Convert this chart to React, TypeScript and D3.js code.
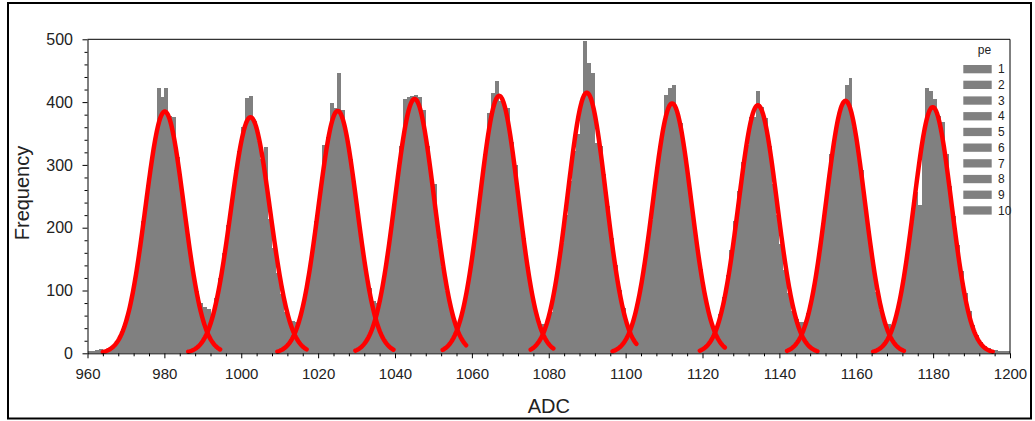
import * as d3 from "d3";
import {useEffect, useRef} from "react";

// histogram counts, one ADC per bin, each pe block starts at peStart[i]
const peStart = [960, 991, 1014, 1035, 1056, 1079, 1101, 1123, 1146, 1168];
const pe1 = [4, 4, 6, 7, 6, 8, 11, 17, 27, 43, 60, 90, 124, 158, 210, 250, 300, 338, 422, 408, 422, 378, 376, 312, 258, 218, 172, 132, 100, 80, 74];
const pe2 = [70, 62, 88, 120, 160, 204, 244, 292, 322, 360, 406, 410, 370, 338, 310, 328, 214, 168, 128, 94, 66, 56, 52];
const pe3 = [50, 64, 90, 124, 160, 210, 250, 332, 345, 399, 390, 446, 387, 342, 310, 262, 218, 172, 134, 104, 84];
const pe4 = [80, 94, 130, 170, 218, 266, 330, 405, 408, 410, 412, 408, 387, 330, 282, 270, 180, 138, 100, 72, 50];
const pe5 = [40, 62, 93, 130, 174, 220, 268, 318, 382, 415, 433, 402, 398, 390, 337, 300, 232, 184, 138, 102, 72, 52, 46];
const pe6 = [48, 66, 96, 132, 176, 220, 275, 322, 350, 400, 497, 463, 447, 335, 330, 286, 234, 184, 140, 101, 72, 40];
const pe7 = [42, 63, 91, 126, 168, 213, 262, 307, 348, 411, 422, 427, 384, 367, 318, 270, 222, 176, 134, 98, 68, 46];
const pe8 = [40, 63, 90, 124, 165, 211, 259, 305, 332, 377, 377, 418, 392, 374, 330, 270, 220, 174, 132, 96, 68, 55, 50];
const pe9 = [50, 64, 92, 127, 168, 215, 263, 318, 350, 382, 400, 427, 438, 360, 322, 292, 226, 178, 136, 98, 69, 48];
const pe10 = [46, 44, 62, 89, 123, 164, 209, 257, 236, 345, 422, 417, 405, 378, 369, 318, 266, 219, 173, 131, 96, 67, 45, 29, 18, 12, 8, 6, 5, 4, 3, 3];
const peCounts = [pe1, pe2, pe3, pe4, pe5, pe6, pe7, pe8, pe9, pe10];

// gaussian fit of each pe peak
const fitMean = [980.1, 1002.4, 1025.1, 1045.1, 1067.1, 1089.9, 1112.1, 1134.4, 1157.2, 1179.9];
const fitAmp = [385, 376, 386, 405, 410, 415, 398, 395, 402, 392];
const fitSigma = [5.0, 5.1, 5.0, 5.1, 5.0, 5.0, 5.0, 5.0, 5.0, 4.9];
const fitFrom = [964, 986.2, 1009.4, 1029.7, 1052.4, 1075.3, 1096.6, 1119.3, 1142, 1164.4];
const fitTo = [994.5, 1017, 1039.6, 1058.5, 1081.2, 1102.8, 1125.8, 1149.9, 1172.4, 1195.5];

const xTicks = [960, 980, 1000, 1020, 1040, 1060, 1080, 1100, 1120, 1140, 1160, 1180, 1200];
const yTicks = [0, 100, 200, 300, 400, 500];
const legendLabels = ["1", "2", "3", "4", "5", "6", "7", "8", "9", "10"];

const font = "'Liberation Sans', Arial, sans-serif";
const gray = "#808080";

const App = () => {
    const ref = useRef<SVGSVGElement>(null);

    useEffect(() => {
        const svg = d3.select(ref.current);
        svg.selectAll("*").remove();

        const left = 87.5, right = 1010, top = 39.3, bottom = 353.3;
        const x = d3.scaleLinear().domain([960, 1200]).range([left, right]);
        const y = d3.scaleLinear().domain([0, 500]).range([bottom, top]);

        // outer frame
        svg.append("rect")
            .attr("x", 8).attr("y", 3)
            .attr("width", 1023).attr("height", 415.5)
            .attr("fill", "white").attr("stroke", "black").attr("stroke-width", 2);

        // bars
        const bins = peCounts.flatMap((arr, i) =>
            arr.map((v, j) => ({pe: i + 1, bin: peStart[i] + j, v}))
        );
        svg.append("g")
            .selectAll("rect")
            .data(bins)
            .join("rect")
            .attr("x", d => x(d.bin))
            .attr("width", d => x(d.bin + 1) - x(d.bin))
            .attr("y", d => y(d.v))
            .attr("height", d => y(0) - y(d.v))
            .attr("fill", gray)
            .attr("shape-rendering", "crispEdges");

        // fit curves
        const line = d3.line<number>()
            .x(a => x(a))
            .y(a => y(0));
        fitMean.forEach((mu, i) => {
            const pts = d3.range(fitFrom[i], fitTo[i], 0.2).concat([fitTo[i]]);
            const g = (a: number) => fitAmp[i] * Math.exp(-((a - mu) ** 2) / (2 * fitSigma[i] ** 2));
            line.y(a => y(g(a)));
            svg.append("path")
                .attr("d", line(pts))
                .attr("fill", "none")
                .attr("stroke", "#ff0000")
                .attr("stroke-width", 4.5)
                .attr("stroke-linecap", "round")
                .attr("stroke-linejoin", "round");
        });

        // top / right frame of the plot
        svg.append("path")
            .attr("d", `M${left},${top}H${right}V${bottom}`)
            .attr("fill", "none").attr("stroke", "black").attr("stroke-width", 1);

        // x axis
        const xMinor = d3.range(960, 1201, 4).filter(v => v % 20 !== 0);
        svg.append("g")
            .attr("transform", `translate(0,${bottom})`)
            .call(d3.axisBottom(x).tickValues(xMinor).tickSize(3).tickSizeOuter(0).tickFormat(() => ""))
            .call(g => g.select(".domain").remove());
        const xAxis = svg.append("g")
            .attr("transform", `translate(0,${bottom})`)
            .call(d3.axisBottom(x).tickValues(xTicks).tickSize(5).tickSizeOuter(0).tickPadding(10).tickFormat(d3.format("d")));
        xAxis.selectAll("text").style("font-family", font).style("font-size", "15px").attr("fill", "#222");

        // y axis
        const yMinor = d3.range(0, 501, 20).filter(v => v % 100 !== 0);
        svg.append("g")
            .attr("transform", `translate(${left},0)`)
            .call(d3.axisLeft(y).tickValues(yMinor).tickSize(3).tickSizeOuter(0).tickFormat(() => ""))
            .call(g => g.select(".domain").remove());
        const yAxis = svg.append("g")
            .attr("transform", `translate(${left},0)`)
            .call(d3.axisLeft(y).tickValues(yTicks).tickSize(5).tickSizeOuter(0).tickPadding(9.5));
        yAxis.selectAll("text").style("font-family", font).style("font-size", "16px").attr("fill", "#222");

        // axis titles
        svg.append("text")
            .attr("x", (left + right) / 2).attr("y", 413)
            .attr("text-anchor", "middle")
            .style("font-family", font).style("font-size", "20px")
            .attr("fill", "#222")
            .text("ADC");
        svg.append("text")
            .attr("transform", `translate(29,193) rotate(-90)`)
            .attr("text-anchor", "middle")
            .style("font-family", font).style("font-size", "20px")
            .attr("fill", "#222")
            .text("Frequency");

        // legend
        const lg = svg.append("g");
        lg.append("text")
            .attr("x", 984.5).attr("y", 53.5)
            .attr("text-anchor", "middle")
            .style("font-family", font).style("font-size", "12px")
            .attr("fill", "#222")
            .text("pe");
        legendLabels.forEach((lab, i) => {
            const ty = 65 + i * 15.7;
            lg.append("rect")
                .attr("x", 963.3).attr("y", ty)
                .attr("width", 28.4).attr("height", 8.3)
                .attr("fill", gray);
            lg.append("text")
                .attr("x", 998).attr("y", ty + 8.3)
                .style("font-family", font).style("font-size", "12px")
                .attr("fill", "#222")
                .text(lab);
        });
    }, []);

    return (
        <svg ref={ref} width={1035} height={421}
             style={{position: "absolute", left: 0, top: 0, background: "white"}}/>
    );
};

export default App;
